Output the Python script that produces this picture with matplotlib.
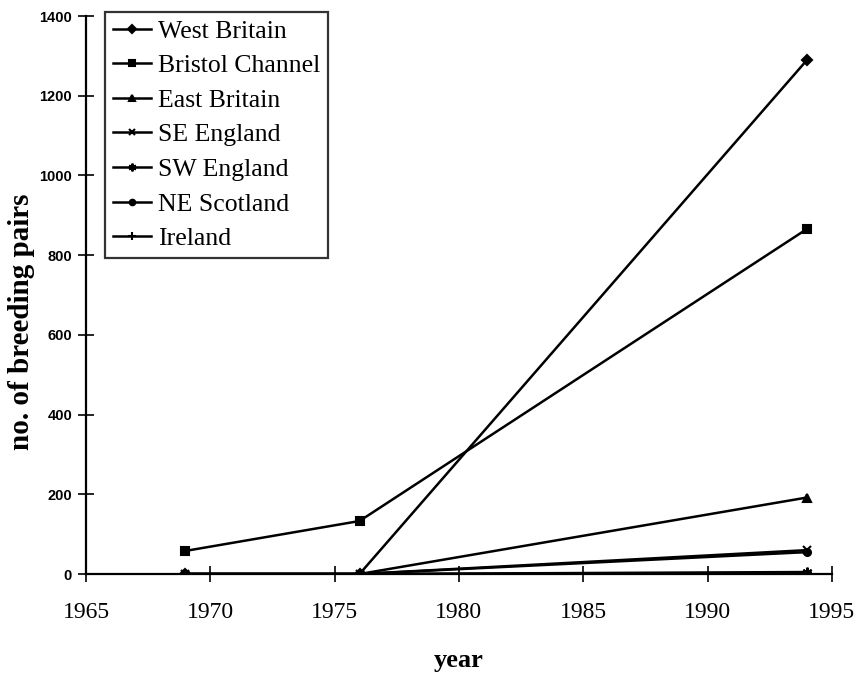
import matplotlib
matplotlib.use("Agg")
import matplotlib.pyplot as plt
import numpy as np

years = [1969, 1976, 1994]
series_names = ["West Britain", "Bristol Channel", "East Britain", "SE England",
                "SW England", "NE Scotland", "Ireland"]
west_britain = [0, 0, 1290]
bristol_channel = [58, 133, 866]
east_britain = [0, 0, 192]
se_england = [0, 0, 60]
sw_england = [0, 0, 5]
ne_scotland = [0, 0, 55]
ireland = [0, 0, 2]
all_values = [west_britain, bristol_channel, east_britain, se_england,
              sw_england, ne_scotland, ireland]
markers = ["D", "s", "^", "x", (6, 2, 0), "o", "+"]
msizes = [5, 6, 6, 6, 7, 5, 7]

x_ticks = [1965, 1970, 1975, 1980, 1985, 1990, 1995]
y_ticks = [0, 200, 400, 600, 800, 1000, 1200, 1400]

fig = plt.figure(figsize=(8.66, 6.79), dpi=100)
ax = fig.add_axes([0.0993, 0.1546, 0.8614, 0.8218])

for name, vals, m, ms in zip(series_names, all_values, markers, msizes):
    ax.plot(years, vals, color="black", lw=1.8, marker=m, ms=ms,
            markeredgewidth=1.5, label=name)

ax.set_xlim(1965, 1995)
ax.set_ylim(0, 1400)
ax.set_xticks(x_ticks)
ax.set_yticks(y_ticks)
for s in ["top", "right"]:
    ax.spines[s].set_visible(False)
for s in ["left", "bottom"]:
    ax.spines[s].set_linewidth(1.6)
ax.tick_params(axis="both", direction="inout", length=12, width=1.2)
ax.tick_params(axis="x", pad=14)
ax.tick_params(axis="y", pad=4)
for lab in ax.get_xticklabels():
    lab.set_fontfamily("Liberation Serif")
    lab.set_fontsize(17)
for lab in ax.get_yticklabels():
    lab.set_fontfamily("Liberation Sans")
    lab.set_fontweight("bold")
    lab.set_fontsize(10.5)

ax.set_xlabel("year", fontfamily="Liberation Serif", fontweight="bold",
              fontsize=19, labelpad=19)
ax.set_ylabel("no. of breeding pairs", fontfamily="Liberation Serif",
              fontweight="bold", fontsize=21, va="center")
ax.yaxis.set_label_coords(-0.086, 0.453)

leg = ax.legend(loc="upper left", bbox_to_anchor=(0.0255, 1.007),
                prop={"family": "Liberation Serif", "size": 18.5},
                frameon=True, fancybox=False, edgecolor="black",
                handlelength=1.5, handletextpad=0.25, labelspacing=0.45,
                borderpad=0.3, borderaxespad=0.0, markerscale=0.8)
leg.get_frame().set_linewidth(1.6)

fig.savefig("out.png", dpi=100)
